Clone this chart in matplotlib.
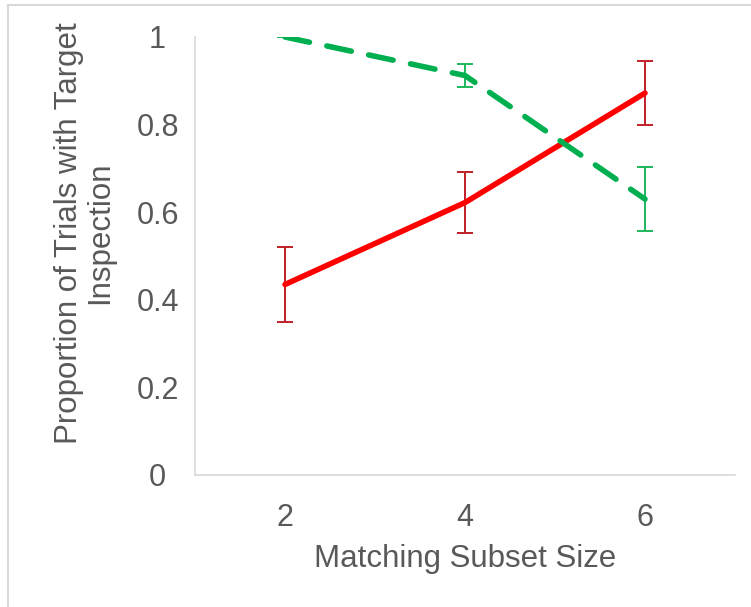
import matplotlib.pyplot as plt
from matplotlib.lines import Line2D

plt.rcParams['font.family'] = ['Liberation Sans', 'DejaVu Sans']

## Data ########################

subset_size = [2, 4, 6]

red_mean = [0.435, 0.622, 0.872]
red_err = [0.086, 0.070, 0.074]

green_mean = [1.0, 0.912, 0.630]
green_err = [0.0, 0.026, 0.074]

## Plot ########################

grey = '#595959'
fig = plt.figure(figsize=(7.51, 6.07), dpi=100)
ax = fig.add_axes([195/751, 1 - 475/607, 540/751, 438/607])

ax.plot(subset_size, red_mean, color='#FF0000', lw=4.0, solid_capstyle='round', zorder=3)
ax.errorbar(subset_size, red_mean, yerr=red_err, fmt='none', ecolor='#C0202A',
            elinewidth=1.4, capsize=6, capthick=1.4, zorder=2)

ax.plot(subset_size, green_mean, color='#00B050', lw=4.0, dashes=(4.5, 3.2),
        dash_capstyle='round', zorder=3)
ax.errorbar(subset_size, green_mean, yerr=green_err, fmt='none', ecolor='#1DB55A',
            elinewidth=1.4, capsize=6, capthick=1.4, zorder=2)

ax.set_xlim(1, 7)
ax.set_ylim(0, 1)
ax.set_xticks([2, 4, 6])
ax.set_yticks([0, 0.2, 0.4, 0.6, 0.8, 1])
ax.set_yticklabels(['0', '0.2', '0.4', '0.6', '0.8', '1'], ha='center')
ax.tick_params(length=0, labelsize=22, colors=grey)
ax.tick_params(axis='y', pad=27)
ax.tick_params(axis='x', pad=20)

for s in ['top', 'right']:
    ax.spines[s].set_visible(False)
for s in ['left', 'bottom']:
    ax.spines[s].set_color('#D9D9D9')
    ax.spines[s].set_linewidth(1.2)

ax.set_xlabel('Matching Subset Size', fontsize=22.5, color=grey, labelpad=8)
ax.set_ylabel('Proportion of Trials with Target\nInspection', fontsize=22.5,
              color=grey, linespacing=1.05)
ax.yaxis.set_label_coords(-0.148, 0.553)

# outer frame (left and top edges)
fig.add_artist(Line2D([8/751, 8/751], [0, 1 - 5/607], color='#D9D9D9', lw=1.5))
fig.add_artist(Line2D([8/751, 1], [1 - 5/607, 1 - 5/607], color='#D9D9D9', lw=1.5))

fig.savefig('out.png', dpi=100)
